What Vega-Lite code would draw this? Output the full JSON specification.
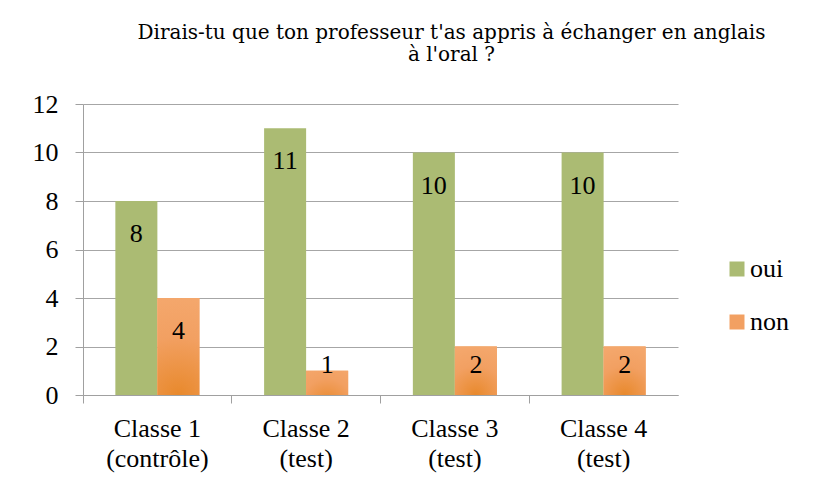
{
  "$schema": "https://vega.github.io/schema/vega-lite/v6.json",
  "width": 595,
  "height": 291,
  "autosize": {"type": "none"},
  "padding": {"left": 83, "top": 104, "right": 141, "bottom": 90},
  "background": "white",
  "config": {
    "view": {"stroke": null},
    "font": "Liberation Serif"
  },
  "title": {
    "text": ["Dirais-tu que ton professeur t'as appris à échanger en anglais", "à l'oral ?"],
    "font": "DejaVu Serif",
    "fontSize": 20,
    "fontWeight": "normal",
    "color": "#000000",
    "lineHeight": 22,
    "anchor": "middle",
    "dx": 71,
    "offset": 26
  },
  "data": {
    "values": [
      {"classe": "Classe 1 (contrôle)", "series": "oui", "value": 8},
      {"classe": "Classe 1 (contrôle)", "series": "non", "value": 4},
      {"classe": "Classe 2 (test)", "series": "oui", "value": 11},
      {"classe": "Classe 2 (test)", "series": "non", "value": 1},
      {"classe": "Classe 3 (test)", "series": "oui", "value": 10},
      {"classe": "Classe 3 (test)", "series": "non", "value": 2},
      {"classe": "Classe 4 (test)", "series": "oui", "value": 10},
      {"classe": "Classe 4 (test)", "series": "non", "value": 2}
    ]
  },
  "encoding": {
    "x": {
      "field": "classe",
      "type": "nominal",
      "sort": null,
      "scale": {"paddingInner": 0, "paddingOuter": 0},
      "axis": {
        "title": null,
        "labelAngle": 0,
        "bandPosition": 0,
        "tickSize": 8,
        "tickColor": "#A0A0A0",
        "domainColor": "#A0A0A0",
        "labelFont": "Liberation Serif",
        "labelFontSize": 26,
        "labelColor": "#000000",
        "labelPadding": 12,
        "labelLineHeight": 30,
        "labelExpr": "[substring(datum.label, 0, 8), substring(datum.label, 9)]"
      }
    },
    "xOffset": {
      "field": "series",
      "type": "nominal",
      "scale": {"domain": ["oui", "non"], "paddingInner": 0, "paddingOuter": 0.77}
    },
    "y": {
      "field": "value",
      "type": "quantitative",
      "scale": {"domain": [0, 12], "nice": false},
      "axis": {
        "title": null,
        "values": [0, 2, 4, 6, 8, 10, 12],
        "tickSize": 8,
        "tickColor": "#A0A0A0",
        "domainColor": "#A0A0A0",
        "gridColor": "#A6A6A6",
        "gridWidth": 1.2,
        "labelFont": "Liberation Serif",
        "labelFontSize": 26,
        "labelColor": "#000000",
        "labelPadding": 17
      }
    }
  },
  "layer": [
    {
      "mark": {"type": "bar"},
      "encoding": {
        "color": {
          "field": "series",
          "type": "nominal",
          "scale": {"domain": ["oui", "non"], "range": ["#ABBB73", "#F2A062"]},
          "legend": {
            "title": null,
            "orient": "none",
            "legendX": 641,
            "legendY": 152,
            "padding": 0,
            "symbolType": "square",
            "symbolSize": 225,
            "symbolStrokeWidth": 0,
            "labelFont": "Liberation Serif",
            "labelFontSize": 26,
            "labelColor": "#000000",
            "labelOffset": 0,
            "rowPadding": 27
          }
        }
      }
    },
    {
      "transform": [{"filter": "datum.series == 'non'"}],
      "mark": {
        "type": "bar",
        "color": {
          "gradient": "radial",
          "x1": 0.5, "y1": 1, "r1": 0,
          "x2": 0.5, "y2": 1, "r2": 1,
          "stops": [
            {"offset": 0, "color": "#E8892C"},
            {"offset": 0.6, "color": "#F2A062"},
            {"offset": 1, "color": "#F4A76C"}
          ]
        }
      }
    },
    {
      "transform": [{"filter": "datum.value >= 3"}],
      "mark": {"type": "text", "baseline": "middle", "dy": 33, "fontSize": 26, "font": "Liberation Serif", "color": "#000000"},
      "encoding": {"text": {"field": "value", "type": "quantitative"}}
    },
    {
      "transform": [{"filter": "datum.value < 3"}],
      "mark": {"type": "text", "baseline": "middle", "dy": -30, "fontSize": 26, "font": "Liberation Serif", "color": "#000000"},
      "encoding": {
        "y": {"datum": 0, "type": "quantitative"},
        "text": {"field": "value", "type": "quantitative"}
      }
    }
  ]
}
